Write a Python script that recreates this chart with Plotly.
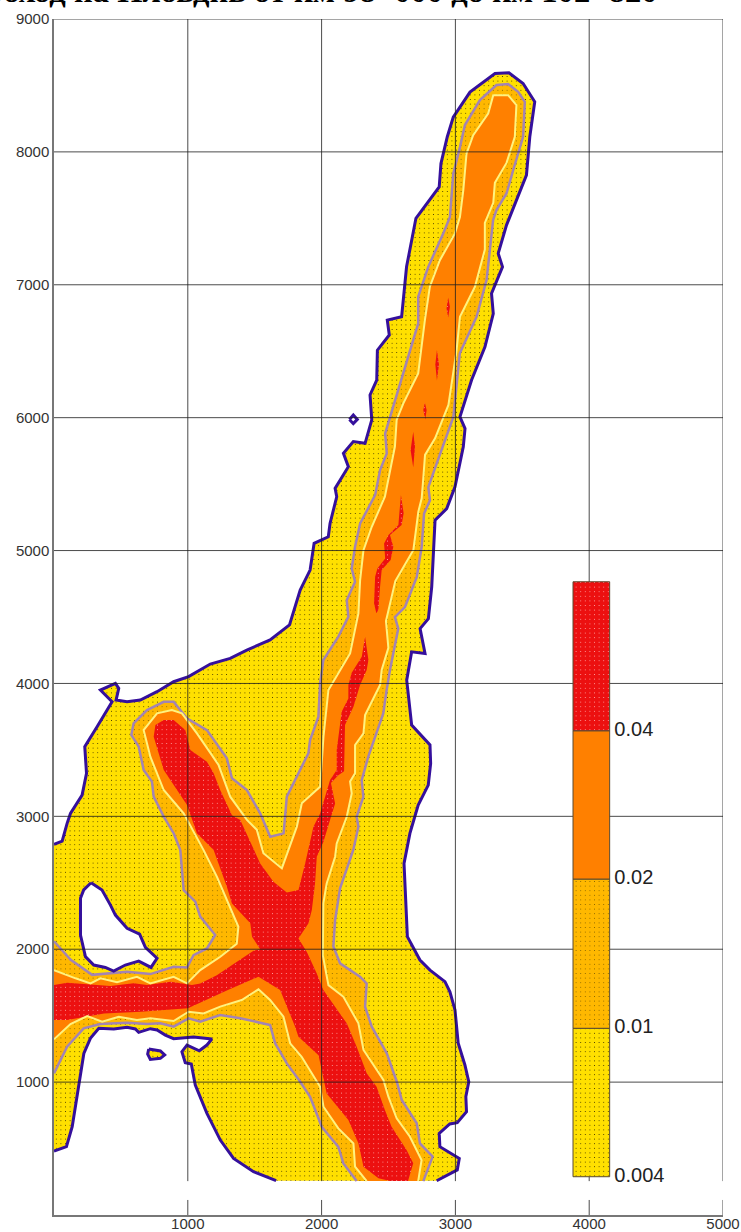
import plotly.graph_objects as go

TITLE = "Проход на Пловдив от км 98+000 до км 102+820"
X_TICKS = [1000, 2000, 3000, 4000, 5000]
Y_TICKS = [1000, 2000, 3000, 4000, 5000, 6000, 7000, 8000, 9000]
LEVEL_LABELS = ["0.004", "0.01", "0.02", "0.04"]
BAR_EDGES = [288, 1405, 2528, 3644, 4765]
BAR_X = [3879, 4153]
CUT_Y = 255
GAP_Y = 113

OUTER_A = [(0,480),(93,514),(136,665),(186,990),(223,1216),(272,1329),(335,1405),(447,1400),(546,1412),(608,1400),(633,1374),(720,1402),(770,1392),(832,1354),(894,1327),(1043,1339),(1180,1324),(1143,1279),(1086,1236),(994,1279),(956,1229),(981,1146),(1026,1136),(1056,978),(1143,765),(1243,564),(1342,426),(1491,326),(1660,258)]
OUTER_B = [(2860,258),(3014,339),(3029,426),(2884,514),(2879,614),(2958,685),(3014,695),(3083,777),(3078,890),(3100,1003),(3071,1129),(3021,1292),(2997,1543),(2959,1680),(2922,1756),(2810,1843),(2735,1919),(2641,2095),(2616,2646),(2660,2872),(2722,3085),(2797,3235),(2815,3398),(2810,3537),(2673,3687),(2640,4000),(2636,4025),(2673,4238),(2773,4225),(2736,4413),(2798,4488),(2823,4727),(2848,5228),(2935,5316),(2997,5479),(3059,5780),(3072,5918),(3034,6006),(3097,6207),(3121,6283),(3221,6533),(3283,6783),(3270,6934),(3352,7135),(3320,7236),(3382,7449),(3531,7825),(3556,8113),(3593,8377),(3506,8515),(3400,8596),(3296,8590),(3109,8450),(2984,8262),(2939,8112),(2892,7912),(2879,7737),(2705,7500),(2635,7135),(2598,6759),(2491,6734),(2506,6622),(2417,6508),(2412,6283),(2362,6171),(2375,5983),(2325,5807),(2237,5820),(2163,5732),(2200,5631),(2101,5468),(2113,5405),(2063,5204),(2050,5104),(1944,5054),(1914,4853),(1840,4703),(1760,4440),(1615,4327),(1441,4251),(1317,4188),(1168,4146),(1006,4051),(894,4013),(770,3938),(645,3875),(546,3862),(464,3875),(484,3963),(459,4000),(347,3950),(434,3862),(322,3674),(230,3524),(243,3323),(210,3160),(123,3022),(98,2947),(61,2814),(0,2789)]
HOLE_LARGE = [(277,2500),(359,2446),(422,2332),(459,2257),(546,2157),(640,2114),(683,2014),(770,1932),(725,1863),(633,1911),(533,1881),(446,1835),(384,1863),(297,1881),(235,1944),(198,2107),(198,2383),(222,2446),(277,2500)]
HOLE_DIAMOND = [(2208,5987),(2237,6020),(2267,5987),(2237,5955),(2208,5987)]
ISLAND = [(708,1249),(795,1234),(827,1204),(795,1179),(720,1171),(700,1211),(708,1249)]

LEVEL1_A = [(0,1066),(98,1267),(222,1405),(347,1437),(546,1447),(695,1437),(794,1442),(894,1417),(1006,1480),(1093,1455),(1242,1505),(1392,1480),(1615,1430),(1653,1291),(1740,1141),(1840,1003),(1914,890),(2001,664),(2125,513),(2163,388),(2262,255)]
LEVEL1_B = [(2760,255),(2830,439),(2735,539),(2711,690),(2599,866),(2562,1003),(2487,1217),(2375,1417),(2325,1567),(2337,1743),(2287,1794),(2138,1894),(2088,2020),(2101,2220),(2138,2458),(2237,2747),(2275,2922),(2262,2997),(2312,3147),(2300,3273),(2349,3449),(2461,3775),(2486,3951),(2511,4101),(2573,4413),(2548,4500),(2623,4575),(2711,4800),(2748,5027),(2766,5278),(2810,5378),(2798,5478),(2860,5654),(2985,6005),(3033,6485),(3158,6759),(3233,7035),(3282,7487),(3307,7562),(3382,7687),(3432,7862),(3506,8113),(3519,8377),(3469,8452),(3394,8510),(3307,8503),(3183,8390),(3071,8202),(3034,8036),(2984,7836),(2959,7510),(2909,7385),(2797,7135),(2722,6910),(2722,6709),(2622,6370),(2525,6057),(2475,5881),(2487,5731),(2437,5605),(2400,5417),(2288,5204),(2250,5028),(2225,4865),(2250,4765),(2188,4627),(2200,4502),(2125,4352),(2013,4176),(1989,4000),(1976,3750),(1914,3574),(1901,3474),(1815,3298),(1740,3148),(1716,2872),(1616,2847),(1541,3023),(1442,3198),(1330,3286),(1292,3436),(1143,3649),(993,3737),(894,3862),(820,3862),(695,3800),(595,3700),(578,3612),(633,3524),(670,3349),(732,3261),(745,3148),(820,2998),(894,2873),(944,2746),(969,2445),(1056,2358),(1093,2245),(1205,2107),(1143,2006),(1043,1956),(994,1863),(894,1868),(720,1813),(546,1830),(285,1807),(125,1920),(0,2060)]

LEVEL2_A = [(0,1322),(123,1437),(248,1497),(360,1455),(484,1492),(620,1467),(720,1480),(894,1460),(1006,1530),(1118,1517),(1242,1568),(1403,1618),(1528,1698),(1615,1618),(1715,1492),(1765,1292),(1851,1191),(1989,965),(2014,815),(2125,652),(2238,539),(2250,364),(2337,255)]
LEVEL2_B = [(2722,255),(2747,413),(2660,589),(2561,727),(2499,890),(2462,1016),(2313,1242),(2275,1442),(2163,1642),(2051,1730),(2009,1956),(2013,2345),(2038,2495),(2101,2696),(2113,2796),(2188,2997),(2225,3173),(2213,3262),(2250,3324),(2250,3537),(2313,3624),(2325,3762),(2437,3988),(2449,4101),(2499,4268),(2481,4469),(2551,4770),(2686,5005),(2723,5293),(2748,5393),(2760,5544),(2773,5720),(2848,5845),(2948,6096),(3009,6509),(3034,6759),(3146,6985),(3220,7265),(3220,7465),(3283,7617),(3295,7767),(3382,7917),(3444,8113),(3456,8352),(3394,8427),(3283,8427),(3245,8289),(3133,8125),(3083,7987),(3059,7711),(3034,7510),(2996,7385),(2884,7185),(2809,6985),(2772,6734),(2722,6333),(2611,6108),(2561,5983),(2548,5783),(2473,5405),(2375,5179),(2313,5003),(2288,4778),(2275,4527),(2213,4226),(2051,3951),(2014,3599),(1989,3223),(1852,3098),(1815,2922),(1703,2608),(1565,2722),(1516,2898),(1442,2973),(1317,3148),(1230,3386),(1180,3461),(1068,3624),(956,3775),(881,3800),(770,3775),(670,3649),(720,3449),(820,3198),(969,3023),(1118,2746),(1218,2545),(1378,2169),(1366,2041),(1243,1943),(1093,1843),(994,1743),(894,1793),(720,1743),(620,1793),(471,1751),(347,1781),(273,1743),(161,1781),(0,1843)]

LEVEL3_MAIN = [(0,1467),(99,1467),(374,1517),(650,1530),(1001,1555),(1300,1693),(1528,1793),(1690,1693),(1802,1417),(1827,1341),(1977,1203),(2038,915),(2200,715),(2275,539),(2313,364),(2425,277),(2513,255),(2646,255),(2685,389),(2635,489),(2523,665),(2473,790),(2411,965),(2337,1066),(2262,1267),(2188,1442),(2013,1693),(1964,1818),(1890,1980),(1827,2081),(1902,2195),(1927,2295),(1951,2495),(1964,2696),(2014,2808),(2063,2972),(2101,3097),(2070,3250),(2125,3310),(2168,3340),(2175,3687),(2238,3825),(2287,3987),(2337,4101),(2350,4177),(2325,4352),(2300,4200),(2225,4080),(2200,3988),(2200,3887),(2150,3787),(2113,3499),(2113,3348),(2063,3273),(1989,3022),(1939,2922),(1877,2646),(1827,2445),(1740,2427),(1640,2508),(1541,2646),(1392,2972),(1330,3009),(1242,3198),(1193,3324),(1143,3411),(1019,3499),(981,3649),(894,3725),(820,3725),(758,3687),(745,3599),(820,3349),(994,3085),(1068,2872),(1193,2746),(1292,2470),(1330,2345),(1467,2195),(1480,2094),(1541,2000),(1491,1989),(1342,1889),(1217,1804),(1093,1742),(1031,1730),(871,1756),(695,1730),(595,1743),(421,1723),(99,1748),(0,1730)]
LEVEL3_ISLAND_A = [(2593,5418),(2613,5280),(2598,5192),(2511,5117),(2536,5029),(2516,4929),(2449,4853),(2437,4728),(2424,4553),(2409,4528),(2392,4603),(2400,4803),(2417,4865),(2475,4941),(2467,5054),(2500,5117),(2574,5192),(2581,5280)]
LEVEL3_ISLAND_B = [(2685,5894),(2698,5781),(2685,5625),(2665,5756)]
LEVEL3_ISLAND_C = [(2772,6112),(2785,6057),(2775,5987),(2760,6057)]
LEVEL3_ISLAND_D = [(2862,6510),(2877,6400),(2862,6280),(2850,6400)]
LEVEL3_ISLAND_E = [(2946,6905),(2959,6834),(2946,6754),(2934,6821)]

YELLOW, AMBER, ORANGE, RED = "#FFE000", "#FFB800", "#FF8000", "#EC1010"
BLUE, PURPLE, PALE = "#35109C", "#A384B4", "#FFF27F"
GRID = "rgba(30,30,30,0.8)"

def xs(p): return [a for a, _ in p]
def ys(p): return [b for _, b in p]

def pattern(color, dot, solidity):
    return dict(shape=".", bgcolor=color, fgcolor=dot, size=4.6, solidity=solidity, fillmode="replace")

fig = go.Figure()

def area(points, color, dot, solidity):
    fig.add_trace(go.Scatter(x=xs(points), y=ys(points), mode="none", fill="toself",
                             fillcolor=color, fillpattern=pattern(color, dot, solidity),
                             hoverinfo="skip"))

def contour(parts, color, width):
    x, y = [], []
    for p in parts:
        x += xs(p) + [None]
        y += ys(p) + [None]
    fig.add_trace(go.Scatter(x=x, y=y, mode="lines", line=dict(color=color, width=width),
                             hoverinfo="skip"))

DOT = "#332800"
RED_DOT = "#FFB0B0"
area(OUTER_A + OUTER_B, YELLOW, DOT, 0.04)
fig.add_trace(go.Scatter(x=xs(HOLE_LARGE), y=ys(HOLE_LARGE), mode="none", fill="toself", fillcolor="white", hoverinfo="skip"))
fig.add_trace(go.Scatter(x=xs(HOLE_DIAMOND), y=ys(HOLE_DIAMOND), mode="none", fill="toself", fillcolor="white", hoverinfo="skip"))
area(ISLAND, YELLOW, DOT, 0.04)
area(LEVEL1_A + LEVEL1_B, AMBER, DOT, 0.03)
fig.add_trace(go.Scatter(x=xs(LEVEL2_A + LEVEL2_B), y=ys(LEVEL2_A + LEVEL2_B), mode="none", fill="toself", fillcolor=ORANGE, hoverinfo="skip"))
area(LEVEL3_MAIN, RED, RED_DOT, 0.04)
for island in (LEVEL3_ISLAND_A, LEVEL3_ISLAND_B, LEVEL3_ISLAND_C, LEVEL3_ISLAND_D, LEVEL3_ISLAND_E):
    area(island, RED, RED_DOT, 0.04)
contour([LEVEL1_A, LEVEL1_B], PURPLE, 2.5)
contour([LEVEL2_A, LEVEL2_B], PALE, 2)
contour([OUTER_A, OUTER_B, HOLE_LARGE, HOLE_DIAMOND, ISLAND], BLUE, 3)

grid_x, grid_y = [], []
for t in Y_TICKS:
    grid_x += [0, 5000, None]
    grid_y += [t, t, None]
for t in X_TICKS:
    grid_x += [t, t, None, t, t, None]
    grid_y += [9000, CUT_Y, None, GAP_Y, 0, None]
fig.add_trace(go.Scatter(x=grid_x, y=grid_y, mode="lines", line=dict(color=GRID, width=1), hoverinfo="skip"))

BAR_COLORS = [(YELLOW, DOT, 0.04), (AMBER, DOT, 0.03), (ORANGE, ORANGE, 0.01), (RED, RED_DOT, 0.04)]
for i, (c, d, s) in enumerate(BAR_COLORS):
    lo, hi = BAR_EDGES[i], BAR_EDGES[i + 1]
    fig.add_trace(go.Scatter(x=[BAR_X[0], BAR_X[1], BAR_X[1], BAR_X[0], BAR_X[0]], y=[lo, lo, hi, hi, lo],
                             mode="lines", line=dict(color="#5a4a30", width=1), fill="toself", fillcolor=c,
                             fillpattern=pattern(c, d, s), hoverinfo="skip"))
fig.add_trace(go.Scatter(x=[BAR_X[1] + 35] * 4, y=BAR_EDGES[:4], mode="text", text=LEVEL_LABELS,
                         textposition="middle right", textfont=dict(family="Liberation Sans", size=20, color="#222"),
                         hoverinfo="skip"))

fig.add_annotation(text=f"<b>{TITLE}</b>", xref="paper", yref="paper", x=-0.143, y=1.0, xanchor="left", yanchor="bottom",
                   yshift=8, showarrow=False, align="left",
                   font=dict(family="Liberation Serif", size=32.6, color="black"))

axis = dict(showgrid=False, zeroline=False, showline=True, linecolor="#777", linewidth=1.5, ticks="", automargin=False,
            tickfont=dict(family="Liberation Sans", size=15, color="#333"), mirror=False)
fig.update_layout(
    width=741, height=1232, autosize=False, showlegend=False,
    margin=dict(l=54, r=18, t=19, b=17, pad=0, autoexpand=False),
    paper_bgcolor="white", plot_bgcolor="white",
    xaxis=dict(axis, range=[0, 5000], tickvals=X_TICKS, ticktext=[str(t) for t in X_TICKS], ticklabelstandoff=-6),
    yaxis=dict(axis, range=[0, 9000], tickvals=Y_TICKS, ticktext=[str(t) for t in Y_TICKS]),
)
fig.write_html("out.html", config={"displayModeBar": False},
               post_script="document.body.style.margin='0';document.documentElement.style.overflow='hidden';")
